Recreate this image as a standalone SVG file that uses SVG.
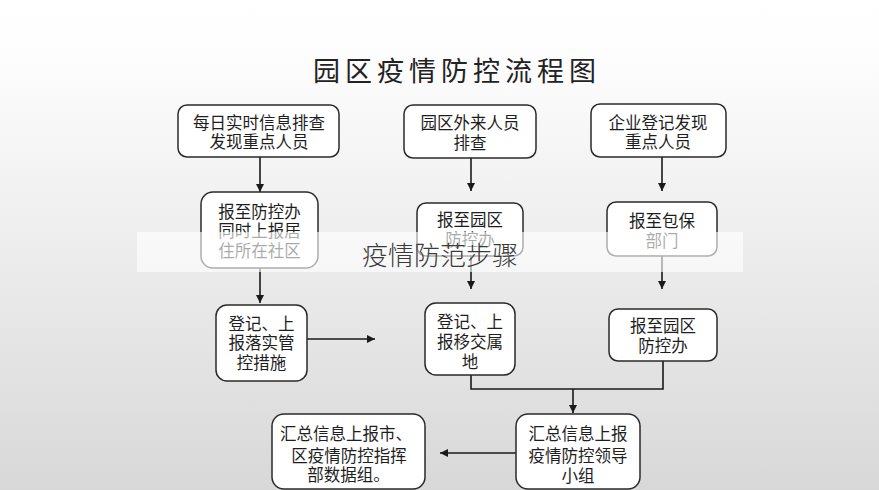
<svg xmlns="http://www.w3.org/2000/svg" width="879" height="490" viewBox="0 0 879 490">
  <defs>
    <linearGradient id="bg" x1="0" y1="0" x2="0" y2="1">
      <stop offset="0" stop-color="#ffffff"/>
      <stop offset="0.12" stop-color="#fdfdfd"/>
      <stop offset="1" stop-color="#d8d8d8"/>
    </linearGradient>
    <marker id="arr" markerUnits="userSpaceOnUse" markerWidth="9" markerHeight="9" refX="8" refY="4" orient="auto">
      <path d="M0,0 L8,4 L0,8 z" fill="#1a1a1a"/>
    </marker>
    <style>
      .box { fill: #ffffff; stroke: #2a2a2a; stroke-width: 1.5; }
      .t { font-family: "Noto Sans CJK SC", "Noto Sans", sans-serif; font-size: 16.5px; fill: #1e1e1e; text-anchor: middle; dominant-baseline: central; }
      .c { fill: none; stroke: #1a1a1a; stroke-width: 1.6; }
      .title { font-family: "Noto Sans CJK SC", sans-serif; font-size: 27px; fill: #222; text-anchor: middle; dominant-baseline: central; letter-spacing: 5px; }
      .band { font-family: "Noto Sans CJK SC", sans-serif; font-size: 26px; font-weight: 300; fill: #3a3a3a; text-anchor: middle; dominant-baseline: central; }
    </style>
  </defs>

  <rect x="0" y="0" width="879" height="490" fill="url(#bg)"/>

  <text class="title" x="457" y="69">园区疫情防控流程图</text>

  <g id="connectors">
    <line class="c" x1="260" y1="157" x2="260" y2="192" marker-end="url(#arr)"/>
    <line class="c" x1="471" y1="158" x2="471" y2="191" marker-end="url(#arr)"/>
    <line class="c" x1="662" y1="157" x2="662" y2="191" marker-end="url(#arr)"/>
    <line class="c" x1="260" y1="268" x2="260" y2="303" marker-end="url(#arr)"/>
    <line class="c" x1="471" y1="256" x2="471" y2="289" marker-end="url(#arr)"/>
    <line class="c" x1="662" y1="256" x2="662" y2="289" marker-end="url(#arr)"/>
    <line class="c" x1="307" y1="339" x2="375" y2="339" marker-end="url(#arr)"/>
    <polyline class="c" points="471,375 471,389 663,389 663,361"/>
    <line class="c" x1="573" y1="389" x2="573" y2="413" marker-end="url(#arr)"/>
    <line class="c" x1="516" y1="453" x2="440" y2="453" marker-end="url(#arr)"/>
  </g>

  <g id="n1">
    <rect class="box" x="178" y="105" width="161" height="52" rx="9"/>
    <text class="t" x="259" y="121.5">每日实时信息排查</text>
    <text class="t" x="259" y="141">发现重点人员</text>
  </g>
  <g id="n2">
    <rect class="box" x="404" y="105" width="132" height="53" rx="9"/>
    <text class="t" x="470" y="122">园区外来人员</text>
    <text class="t" x="470" y="142">排查</text>
  </g>
  <g id="n3">
    <rect class="box" x="591" y="104" width="135" height="53" rx="9"/>
    <text class="t" x="658" y="121.5">企业登记发现</text>
    <text class="t" x="658" y="141">重点人员</text>
  </g>
  <g id="n4">
    <rect class="box" x="201" y="192" width="117" height="76" rx="12"/>
    <text class="t" x="259.5" y="210.5">报至防控办</text>
    <text class="t" x="259.5" y="230">同时上报居</text>
    <text class="t" x="259.5" y="250">住所在社区</text>
  </g>
  <g id="n5">
    <rect class="box" x="417" y="203" width="106" height="53" rx="9"/>
    <text class="t" x="470" y="219">报至园区</text>
    <text class="t" x="470" y="239">防控办</text>
  </g>
  <g id="n6">
    <rect class="box" x="607" y="202" width="110" height="54" rx="9"/>
    <text class="t" x="662" y="220">报至包保</text>
    <text class="t" x="662" y="240">部门</text>
  </g>
  <g id="n7">
    <rect class="box" x="216" y="305" width="91" height="76" rx="11"/>
    <text class="t" x="261.5" y="322.5">登记、上</text>
    <text class="t" x="261.5" y="341.5">报落实管</text>
    <text class="t" x="261.5" y="362">控措施</text>
  </g>
  <g id="n8">
    <rect class="box" x="425" y="303" width="90" height="72" rx="11"/>
    <text class="t" x="470" y="320.5">登记、上</text>
    <text class="t" x="470" y="340.5">报移交属</text>
    <text class="t" x="470" y="360.5">地</text>
  </g>
  <g id="n9">
    <rect class="box" x="609" y="309" width="108" height="52" rx="9"/>
    <text class="t" x="663" y="324.5">报至园区</text>
    <text class="t" x="663" y="344.5">防控办</text>
  </g>
  <g id="n10">
    <rect class="box" x="516" y="414" width="124" height="75" rx="12"/>
    <text class="t" x="578" y="432.5">汇总信息上报</text>
    <text class="t" x="578" y="454.5">疫情防控领导</text>
    <text class="t" x="578" y="474.5">小组</text>
  </g>
  <g id="n11">
    <rect class="box" x="272" y="414" width="153" height="75" rx="12"/>
    <text class="t" x="346" y="432.5">汇总信息上报市、</text>
    <text class="t" x="349" y="454.5">区疫情防控指挥</text>
    <text class="t" x="348.5" y="473.5">部数据组。</text>
  </g>

  <rect x="137" y="232" width="606" height="40" fill="#ffffff" fill-opacity="0.62"/>
  <text class="band" x="440" y="253">疫情防范步骤</text>
</svg>
